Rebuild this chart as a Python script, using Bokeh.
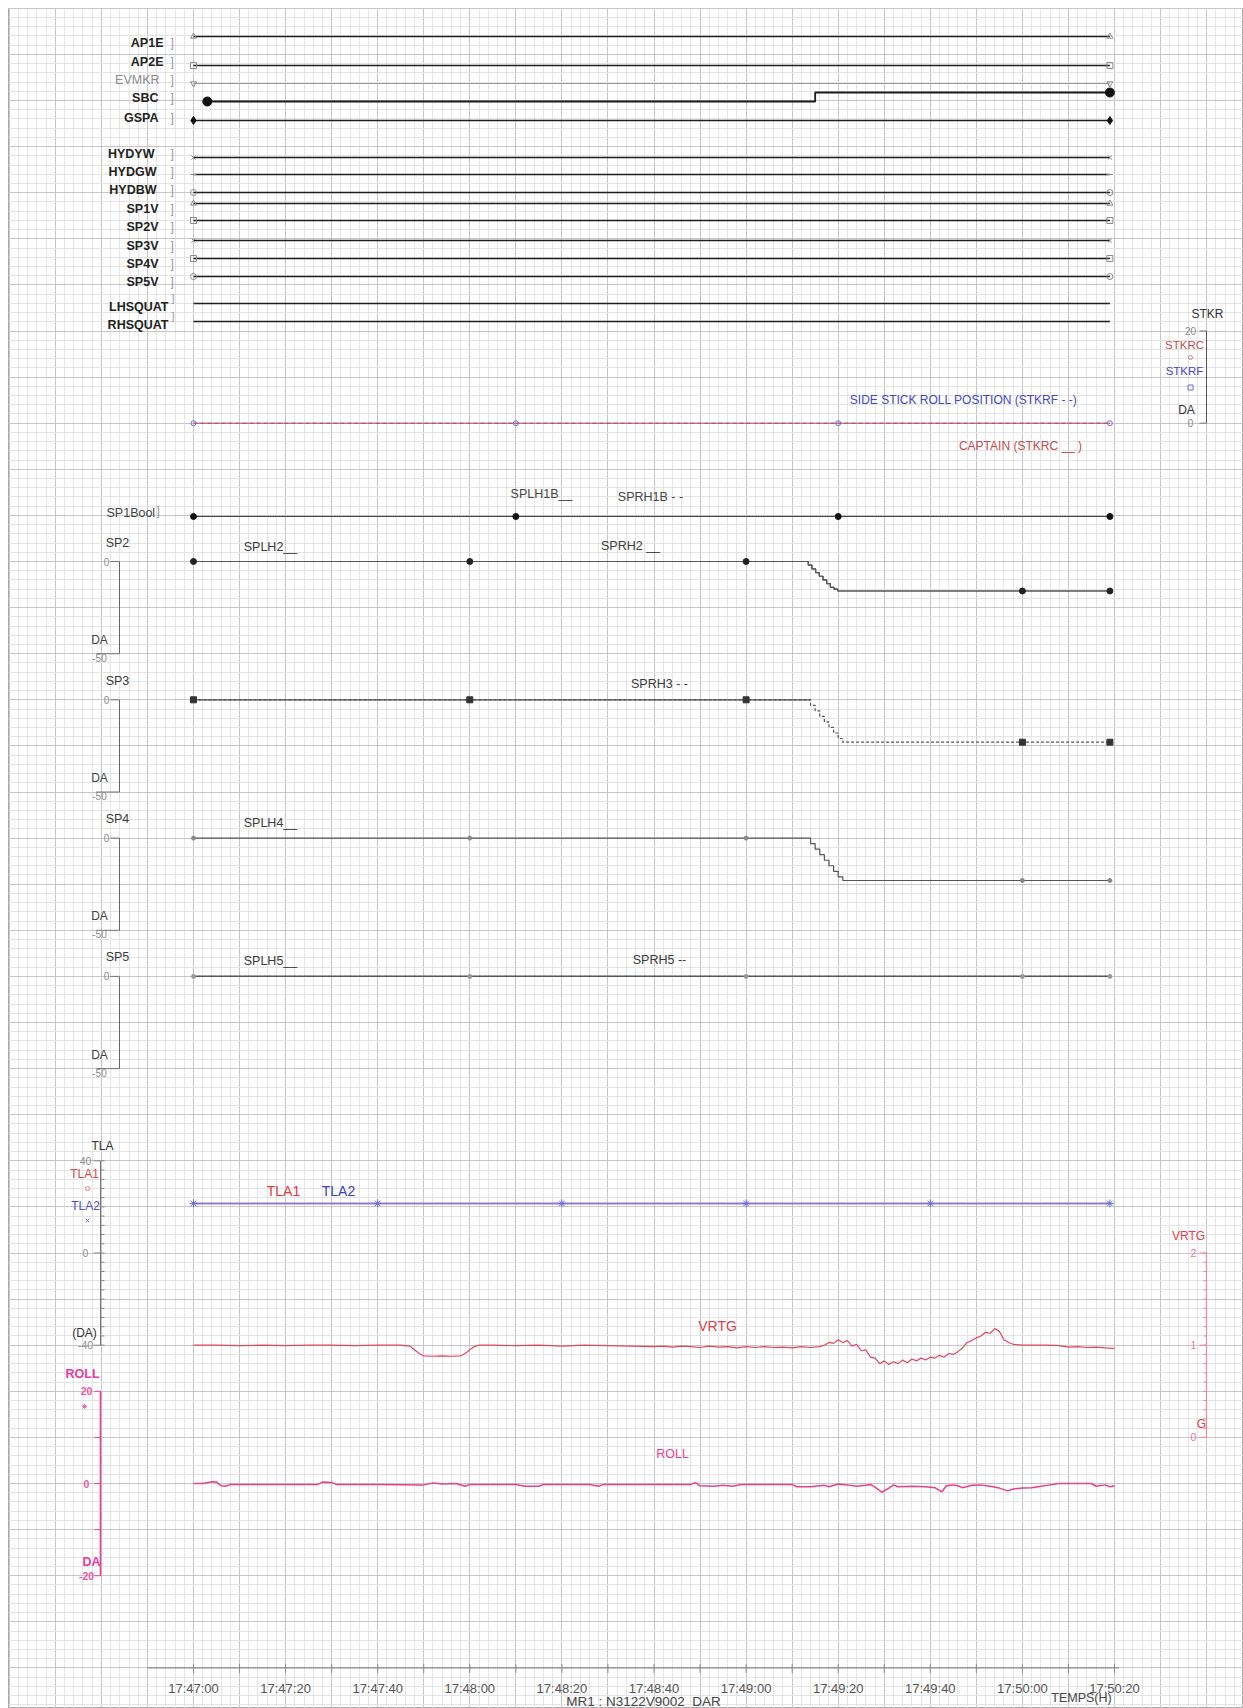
import numpy as np
from bokeh.plotting import figure
from bokeh.models import Range1d, FixedTicker, Grid
from bokeh.embed import file_html
from bokeh.resources import INLINE
from bokeh.core.properties import value

# ---------------- data (time = seconds after 17:47:00) ----------------
TIME_TICKS = [0, 20, 40, 60, 80, 100, 120, 140, 160, 180, 200]
TIME_LABELS = ["17:47:00", "17:47:20", "17:47:40", "17:48:00", "17:48:20", "17:48:40",
               "17:49:00", "17:49:20", "17:49:40", "17:50:00", "17:50:20"]

BIN_NAMES = ["AP1E", "AP2E", "EVMKR", "SBC", "GSPA", "HYDYW", "HYDGW", "HYDBW",
             "SP1V", "SP2V", "SP3V", "SP4V", "SP5V", "LHSQUAT", "RHSQUAT"]
BIN_LEVEL = [0, 0, 0, 0, 0, 0, 0, 0, 0, 0, 0, 0, 0, 0, 0]
BIN_T = [0, 199]
SBC_T = [3, 135, 199]
SBC_V = [0, 1, 1]

STK_T = [0, 199]
STKRC = [0, 0]
STKRF = [0, 0]
STK_MARK_T = [0, 70, 140, 199]
STK_TICKS = [20, 0]
STK_TICK_LABELS = ["20", "0"]

SP1B_T = [0, 199]
SPLH1B = [0, 0]
SPRH1B = [0, 0]
SP1B_MARK_T = [0, 70, 140, 199]

SP2_T = [0, 133.5, 134.3, 135.1, 135.9, 136.7, 137.5, 138.3, 139.1, 139.9, 199]
SPLH2 = [0, -2, -4, -6, -8, -10, -12, -14, -15, -16, -16]
SPRH2 = [0, -2, -4, -6, -8, -10, -12, -14, -15, -16, -16]
SP3_T = [0, 134, 135, 136, 137, 138, 139, 140, 141, 199]
SPRH3 = [0, -3, -6, -9, -12, -15, -18, -21, -23, -23]
SP4_T = [0, 134, 135, 136, 137, 138, 139, 140, 141, 199]
SPLH4 = [0, -3, -6, -9, -12, -15, -18, -21, -23, -23]
SP5_T = [0, 199]
SPLH5 = [0, 0]
SPRH5 = [0, 0]
SP_MARK_T = [0, 60, 120, 180, 199]
SP_TICKS = [0, -50]
SP_TICK_LABELS = ["0", "-50"]

TLA_T = [0, 199]
TLA1 = [21.5, 21.5]
TLA2 = [21.5, 21.5]
TLA_MARK_T = [0, 40, 80, 120, 160, 199]
TLA_TICKS = [40, 0, -40]
TLA_TICK_LABELS = ["40", "0", "-40"]

VRTG_T = [0, 5, 10, 15, 20, 25, 30, 35, 40, 45, 47, 48, 49, 50, 52, 54, 56, 58, 59, 60,
          61, 62, 65, 70, 75, 80, 85, 90, 95, 100, 102, 104, 106, 108, 110, 112, 114, 116,
          118, 120, 122, 124, 126, 128, 130, 132, 134, 136, 137, 138, 139, 140, 141, 142,
          143, 144, 145, 146, 147, 148, 149, 150, 151, 152, 153, 154, 155, 156, 157, 158,
          159, 160, 161, 162, 163, 164, 165, 166, 167, 168, 169, 170, 171, 172, 173, 174,
          175, 176, 177, 178, 180, 185, 188, 190, 192, 194, 196, 198, 200]
VRTG = [1.00, 1.00, 0.995, 1.00, 0.995, 1.00, 1.00, 0.995, 1.00, 1.00, 0.99, 0.95, 0.91, 0.885,
        0.88, 0.885, 0.88, 0.885, 0.91, 0.95, 0.985, 1.00, 1.00, 0.995, 1.00, 0.99, 1.00,
        0.995, 0.99, 0.985, 0.99, 0.98, 0.99, 0.985, 0.975, 0.99, 0.98, 0.985, 0.97, 0.985,
        0.975, 0.985, 0.975, 0.98, 0.97, 0.985, 0.975, 0.985, 1.00, 1.03, 1.02, 1.06, 1.03,
        1.05, 0.99, 1.01, 0.94, 0.95, 0.87, 0.86, 0.80, 0.83, 0.79, 0.82, 0.80, 0.84, 0.81,
        0.85, 0.83, 0.86, 0.84, 0.87, 0.86, 0.89, 0.87, 0.91, 0.90, 0.93, 0.97, 1.03, 1.05,
        1.08, 1.10, 1.14, 1.13, 1.18, 1.15, 1.06, 1.03, 1.01, 1.00, 1.00, 0.995, 0.98, 0.985,
        0.975, 0.98, 0.97, 0.965]
VRTG_TICKS = [2, 1, 0]
VRTG_TICK_LABELS = ["2", "1", "0"]

ROLL_T = [0, 2, 4, 5, 6, 7, 8, 10, 20, 27, 28, 30, 31, 40, 50, 52, 54, 57, 59, 60, 70, 72,
          75, 76, 86, 88, 89, 100, 108, 109, 110, 113, 115, 117, 119, 125, 130, 131, 134,
          137, 138, 140, 142, 144, 146, 147, 148, 149.5, 151, 152, 153, 156, 159, 161, 162.5,
          163.5, 165, 166, 167, 169, 171, 173, 175, 176.8, 178, 180, 182, 184, 186, 188, 195,
          196, 198, 199, 200]
ROLL = [0.0, 0.0, 0.4, 0.3, -0.5, -0.6, -0.2, -0.2, -0.2, -0.2, 0.3, 0.2, -0.2, -0.2, -0.3,
        0.1, -0.1, 0.0, -0.6, -0.2, -0.2, -0.6, -0.6, -0.2, -0.2, -0.6, -0.2, -0.2, -0.2, 0.2,
        -0.5, -0.6, -0.4, -0.6, -0.2, -0.2, -0.2, -0.7, -0.7, -0.4, -0.7, -0.1, -0.3, -0.6,
        -0.4, -0.2, -0.8, -1.9, -1.0, -0.3, -0.7, -0.6, -0.7, -0.9, -1.8, -0.5, -0.3, -0.5,
        -0.9, -0.4, -0.3, -0.6, -1.0, -1.6, -1.2, -1.0, -0.9, -0.6, -0.3, 0.0, 0.0, -0.6,
        -0.3, -0.7, -0.5]
ROLL_TICKS = [20, 0, -20]
ROLL_TICK_LABELS = ["20", "0", "-20"]

# ---------------- layout ----------------
FIG_W, FIG_H = 1243, 1708
PX0, PY0 = 8, 8                 # page position of the plotting frame (white margin before it)
W, H = FIG_W - PX0, FIG_H - PY0
X0_PX = 193.0                   # page x of 17:47:00
PX_PER_S = 4.605                # 10 s per major grid square


def gy(k):                      # page y of major grid row k
    return 7.8 + 46.1 * k


def vrange(va, ya, vb, yb):
    k = (vb - va) / (yb - ya)
    return Range1d(start=va + (PY0 + H - ya) * k, end=va + (PY0 - ya) * k)


def at(ts, vs, t):
    i = int(np.searchsorted(ts, t, side="right")) - 1
    return vs[max(i, 0)]


p = figure(width=FIG_W, height=FIG_H, output_backend="svg", toolbar_location=None,
           x_axis_type=None, y_axis_type=None,
           x_range=Range1d((PX0 - X0_PX) / PX_PER_S, (PX0 + W - X0_PX) / PX_PER_S),
           y_range=Range1d(PY0 + H, PY0), min_border=0)
p.min_border_left = PX0
p.min_border_top = PY0
p.min_border_right = 0
p.min_border_bottom = 0
p.outline_line_color = "#a8a8a8"
p.background_fill_color = "white"
p.border_fill_color = "white"
p.extra_x_ranges = {"px": Range1d(PX0, PX0 + W)}

# grid: 10 s per major square, 5 minor divisions
xg = Grid(dimension=0,
          ticker=FixedTicker(ticks=list(range(-40, 240, 10)), minor_ticks=list(range(-40, 240, 2))),
          grid_line_color="#c6c6c6", minor_grid_line_color="#e4e4e4")
yg = Grid(dimension=1,
          ticker=FixedTicker(ticks=[gy(k) for k in range(0, 38)],
                             minor_ticks=[gy(k / 5) for k in range(0, 190)]),
          grid_line_color="#c6c6c6", minor_grid_line_color="#e4e4e4")
p.add_layout(xg)
p.add_layout(yg)

FONT = value("Liberation Sans")


def txt(x, y, s, color="#333333", size="12.5px", align="center", baseline="middle",
        style="normal", yr="default", xr="px"):
    p.text(x=[x], y=[y], text=[s], x_range_name=xr, y_range_name=yr, text_font=FONT,
           text_font_size=size, text_color=color, text_align=align, text_baseline=baseline,
           text_font_style=style)


def seg(x0, y0, x1, y1, color, width=1, yr="default", xr="px"):
    p.segment(x0=[x0], y0=[y0], x1=[x1], y1=[y1], line_color=color, line_width=width,
              x_range_name=xr, y_range_name=yr)


# ---------------- discrete channels (top) ----------------
ROW_Y = [36, 65, 83, 101, 120, 157, 174, 192, 203, 220, 240, 258, 276, 303, 321]
LABEL_Y = [42, 61, 79, 97, 117, 153, 171, 189, 208, 226, 245, 263, 281, 306, 324]
LABEL_X = [163, 163, 159, 158, 158, 154, 156, 156, 158, 158, 158, 158, 158, 168, 168]
MARKERS = ["triangle", "square", "inverted_triangle", None, "diamond", "x", "dash", "circle",
           "triangle", "square", "x", "square", "circle", None, None]

for i, name in enumerate(BIN_NAMES):
    rn = "b%d" % i
    p.extra_y_ranges[rn] = vrange(0, ROW_Y[i], 1, ROW_Y[i] - 9)
    if name == "SBC":
        p.step(SBC_T, SBC_V, mode="after", y_range_name=rn, line_color="#1a1a1a", line_width=1.8)
        p.scatter([SBC_T[0], SBC_T[-1]], [SBC_V[0], SBC_V[-1]], marker="circle", size=9,
                  fill_color="#111111", line_color="#111111", y_range_name=rn)
    else:
        lv = [BIN_LEVEL[i]] * len(BIN_T)
        col = "#9a9a9a" if name == "EVMKR" else "#1e1e1e"
        p.line(BIN_T, lv, y_range_name=rn, line_color=col, line_width=1.0 if name == "EVMKR" else 1.4)
        mk = MARKERS[i]
        if mk == "diamond":
            p.scatter([BIN_T[0], BIN_T[-1]], [lv[0], lv[-1]], marker="diamond", size=8,
                      fill_color="#111111", line_color="#111111", y_range_name=rn)
        elif mk is not None:
            p.scatter([BIN_T[0], BIN_T[-1]], [lv[0], lv[-1]], marker=mk, size=6,
                      fill_color=None, line_color="#8a8a8a", y_range_name=rn)
    if name == "EVMKR":
        txt(LABEL_X[i], LABEL_Y[i], name, color="#8c8c8c", align="right")
    else:
        txt(LABEL_X[i], LABEL_Y[i], name, color="#222222", align="right", style="bold")
    if name in ("LHSQUAT", "RHSQUAT"):
        txt(171, LABEL_Y[i] - 9, "]", color="#9a9a9a", size="11px", align="left")
    else:
        txt(170, LABEL_Y[i], "]", color="#9a9a9a", size="12px", align="left")

# ---------------- side stick roll ----------------
p.extra_y_ranges["stk"] = vrange(0, gy(9), 20, gy(7))
p.line(STK_T, STKRF, y_range_name="stk", line_color="#5a5ad6", line_dash="4 3", line_width=1)
p.line(STK_T, STKRC, y_range_name="stk", line_color="#c85050", line_width=1)
p.scatter(STK_MARK_T, [at(STK_T, STKRF, t) for t in STK_MARK_T], marker="circle", size=5,
          fill_color=None, line_color="#7070d0", y_range_name="stk")
txt(963, 399, "SIDE STICK ROLL POSITION (STKRF - -)", color="#4646c8", size="12px")
txt(1020, 445, "CAPTAIN (STKRC __ )", color="#c04e4e", size="12px")
seg(1206, min(STK_TICKS), 1206, max(STK_TICKS), "#555555", yr="stk")
for tv, tl in zip(STK_TICKS, STK_TICK_LABELS):
    seg(1199, tv, 1206, tv, "#777777", yr="stk")
    txt(1190, tv, tl, color="#8a8a8a", size="10px", yr="stk")
txt(1207, 313, "STKR", color="#333333", size="12px")
txt(1184, 344, "STKRC", color="#c05050", size="11.5px")
p.scatter([1190], [357], marker="circle", size=4, fill_color=None, line_color="#d08080", x_range_name="px")
txt(1184, 370, "STKRF", color="#4646c8", size="11.5px")
p.scatter([1190], [387], marker="square", size=5, fill_color=None, line_color="#7070d0", x_range_name="px")
txt(1186, 409, "DA", color="#333333", size="12px")

# ---------------- SP1 boolean ----------------
p.extra_y_ranges["sp1b"] = vrange(0, 516, 1, 507)
p.line(SP1B_T, SPRH1B, y_range_name="sp1b", line_color="#555555", line_dash="4 3", line_width=1)
p.line(SP1B_T, SPLH1B, y_range_name="sp1b", line_color="#444444", line_width=1.2)
p.scatter(SP1B_MARK_T, [at(SP1B_T, SPLH1B, t) for t in SP1B_MARK_T], marker="circle", size=6,
          fill_color="#111111", line_color="#111111", y_range_name="sp1b")
txt(106, 512, "SP1Bool", color="#444444", align="left")
txt(156, 510, "]", color="#9a9a9a", size="12px", align="left")
txt(541, 493, "SPLH1B__", color="#444444")
txt(650, 496, "SPRH1B - -", color="#444444")

# ---------------- spoiler panels ----------------
PANELS = [
    ("SP2", 12, [(SP2_T, SPLH2, None), (SP2_T, SPRH2, None)], "SPLH2__", "SPRH2 __"),
    ("SP3", 15, [(SP3_T, SPRH3, "3 2")], None, "SPRH3 - -"),
    ("SP4", 18, [(SP4_T, SPLH4, None)], "SPLH4__", None),
    ("SP5", 21, [(SP5_T, SPLH5, None), (SP5_T, SPRH5, "3 2")], "SPLH5__", "SPRH5 --"),
]
MARK_STYLE = {"SP2": ("circle", 6, "#222222"), "SP3": ("square", 6, "#333333"),
              "SP4": ("circle", 4, "#888888"), "SP5": ("circle", 4, "#999999")}
for name, k0, series, lab_l, lab_r in PANELS:
    rn = name.lower()
    p.extra_y_ranges[rn] = vrange(0, gy(k0), -50, gy(k0 + 2))
    for ts, vs, dash in series:
        if dash:
            p.step(ts, vs, mode="after", y_range_name=rn, line_color="#555555",
                   line_width=1.2, line_dash=dash)
            # the neutral part of the trace reads as a continuous line on the chart
            n0 = [j for j in range(len(vs)) if vs[j] == vs[0]]
            n_end = n0[-1] + 1
            p.line(ts[:n_end + 1], [vs[0]] * (n_end + 1), y_range_name=rn,
                   line_color="#555555", line_width=1.2)
        else:
            p.step(ts, vs, mode="after", y_range_name=rn, line_color="#555555", line_width=1.2)
    ts0, vs0 = series[0][0], series[0][1]
    mk, sz, mc = MARK_STYLE[name]
    p.scatter(SP_MARK_T, [at(ts0, vs0, t) for t in SP_MARK_T], marker=mk, size=sz,
              fill_color=mc, line_color=mc, y_range_name=rn)
    # axis
    seg(119, min(SP_TICKS), 119, max(SP_TICKS), "#666666", yr=rn)
    seg(110, SP_TICKS[0], 119, SP_TICKS[0], "#777777", yr=rn)
    seg(96, SP_TICKS[1], 119, SP_TICKS[1], "#777777", yr=rn)
    txt(106, SP_TICKS[0], SP_TICK_LABELS[0], color="#8c8c8c", size="10px", yr=rn)
    txt(99, SP_TICKS[1], SP_TICK_LABELS[1], color="#8c8c8c", size="10px", yr=rn, baseline="top")
    txt(99, gy(k0 + 2) - 14, "DA", color="#444444", size="12px")
    txt(117, gy(k0) - 19, name, color="#3a3a3a")
    if lab_l:
        txt(270, gy(k0) - 15, lab_l, color="#3a3a3a")
    if lab_r:
        txt(630 if name == "SP2" else 659, gy(k0) - 16, lab_r, color="#3a3a3a")

# ---------------- TLA ----------------
p.extra_y_ranges["tla"] = vrange(0, gy(27), 40, gy(25))
p.line(TLA_T, TLA1, y_range_name="tla", line_color="#e04848", line_width=1.5)
p.line(TLA_T, TLA2, y_range_name="tla", line_color="#7c7ce8", line_width=1.6)
p.scatter(TLA_MARK_T, [at(TLA_T, TLA2, t) for t in TLA_MARK_T], marker="asterisk", size=8,
          line_color="#6a6ae0", y_range_name="tla")
seg(100, min(TLA_TICKS), 100, max(TLA_TICKS), "#777777", yr="tla")
for tv in range(-40, 41, 4):
    seg(100, tv, 104, tv, "#888888", yr="tla")
for tv, tl in zip(TLA_TICKS, TLA_TICK_LABELS):
    seg(93, tv, 100, tv, "#888888", yr="tla")
    txt(85, tv, tl, color="#8c8c8c", size="10.5px", yr="tla")
txt(102, 1145, "TLA", color="#333333", size="12px")
txt(84, 1173, "TLA1", color="#e04848", size="12px")
p.scatter([87], [1188], marker="circle", size=4, fill_color=None, line_color="#e08080", x_range_name="px")
txt(85, 1205, "TLA2", color="#5050d0", size="12px")
p.scatter([87], [1220], marker="x", size=5, line_color="#7070d0", x_range_name="px")
txt(84, 1332, "(DA)", color="#333333", size="12px")
txt(283, 1190, "TLA1", color="#e03c3c", size="14px")
txt(338, 1190, "TLA2", color="#3c3cc8", size="14px")

# ---------------- VRTG ----------------
p.extra_y_ranges["vrtg"] = vrange(1, gy(29), 2, gy(27))
p.line(VRTG_T, VRTG, y_range_name="vrtg", line_color="#e2475d", line_width=1.2)
seg(1206, min(VRTG_TICKS), 1206, max(VRTG_TICKS), "#e88a96", width=1.2, yr="vrtg")
for j in range(0, 21):
    seg(1203, j / 10, 1206, j / 10, "#e88a96", yr="vrtg")
for tv, tl in zip(VRTG_TICKS, VRTG_TICK_LABELS):
    seg(1199, tv, 1206, tv, "#e88a96", yr="vrtg")
    txt(1193, tv, tl, color="#e07a86", size="10.5px", yr="vrtg")
txt(1188, 1235, "VRTG", color="#e0404e", size="12px")
txt(1201, 1423, "G", color="#e0404e", size="12px")
txt(717, 1325, "VRTG", color="#e0404e", size="14px")

# ---------------- ROLL ----------------
p.extra_y_ranges["roll"] = vrange(0, gy(32), 20, gy(30))
p.line(ROLL_T, ROLL, y_range_name="roll", line_color="#e8408a", line_width=1.5)
seg(100, min(ROLL_TICKS), 100, max(ROLL_TICKS), "#e8409a", width=1.6, yr="roll")
for tv in range(-20, 21, 10):
    seg(94, tv, 100, tv, "#e8409a", yr="roll")
for tv, tl in zip(ROLL_TICKS, ROLL_TICK_LABELS):
    txt(86, tv, tl, color="#ec5aa2", size="10.5px", yr="roll", style="bold")
txt(82, 1373, "ROLL", color="#e8409a", size="12.5px", style="bold")
p.scatter([84], [1406], marker="asterisk", size=5, line_color="#ec70b0", x_range_name="px")
txt(91, 1561, "DA", color="#e8409a", size="12.5px", style="bold")
txt(672, 1453, "ROLL", color="#e8409a", size="12.5px")

# ---------------- time axis ----------------
AX_Y = gy(36)
p.segment(x0=[-10], y0=[AX_Y], x1=[201], y1=[AX_Y], line_color="#8a8a8a", line_width=1.2)
tk = list(range(0, 201, 10))
p.segment(x0=tk, y0=[AX_Y - 4] * len(tk), x1=tk, y1=[AX_Y + 5] * len(tk),
          line_color="#8a8a8a", line_width=1)
p.text(x=TIME_TICKS, y=[AX_Y + 21] * len(TIME_TICKS), text=TIME_LABELS, text_font=FONT,
       text_font_size="13px", text_color="#555555", text_align="center", text_baseline="middle")
txt(1081, 1697, "TEMPS(H)", color="#444444", size="12.5px")
txt(643, 1701, "MR1 : N3122V9002_DAR", color="#444444", size="13.5px")

open("out.html", "w").write(file_html(p, INLINE, title="flight data"))
